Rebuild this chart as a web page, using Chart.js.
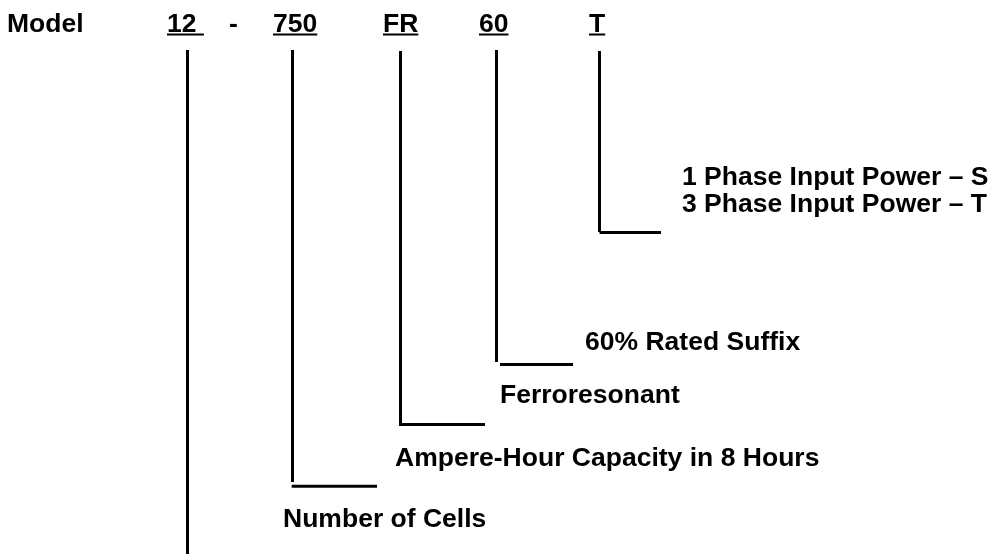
<!DOCTYPE html>
<html><head><meta charset="utf-8">
<script src="https://cdn.jsdelivr.net/npm/chart.js@4"></script>
<style>html,body{margin:0;padding:0;background:#fff;overflow:hidden}canvas{display:block}</style>
</head><body>
<canvas id="c" width="997" height="554"></canvas>
<script>
// ---- content ----
const modelLabel = 'Model';
const codeParts = ['12 ', '-', '750', 'FR', '60', 'T'];
const codeUnderlined = [true, false, true, true, true, true];
const descriptions = [
  ['Number of Cells'],
  ['Ampere-Hour Capacity in 8 Hours'],
  ['Ferroresonant'],
  ['60% Rated Suffix'],
  ['1 Phase Input Power \u2013 S', '3 Phase Input Power \u2013 T']
];

// ---- layout (diagram units on the hidden axes) ----
const modelX = 7;
const codeX = [167, 229, 273, 383, 479, 589];
const codeBaseline = 32;
const stemX = [187.5, 292.5, 400.5, 496.5, 599.5];
const stemTop = [50, 50, 51, 50, 51];
const stemBottom = [554, 482, 424, 362, 232];
const legX0 = [null, 291.7, 399, 500, 599.5];
const legX1 = [null, 377, 485, 573, 661];
const legY = [null, 486.3, 424.5, 364.5, 232.5];
const descX = [283, 395, 500, 585, 682];
const descBaseline = [527, 466, 403, 350, 185];
const descLineHeight = 27;
const FONT = 'bold 26px "Liberation Sans", Arial, sans-serif';
const TEXT_STRETCH = 1.02;

const datasets = [];
stemX.forEach((x, i) => {
  datasets.push({data: [{x: x, y: stemTop[i]}, {x: x, y: stemBottom[i]}]});
  if (legY[i] !== null) {
    datasets.push({data: [{x: legX0[i], y: legY[i]}, {x: legX1[i], y: legY[i]}]});
  }
});
datasets.forEach(d => Object.assign(d, {
  showLine: true, borderColor: '#000', borderWidth: 3, pointRadius: 0,
  pointHoverRadius: 0, fill: false, tension: 0, borderCapStyle: 'butt'
}));

function drawText(c, t, px, py, underline) {
  c.save();
  c.translate(px, py);
  c.scale(TEXT_STRETCH, 1);
  c.fillText(t, 0, 0);
  if (underline) {
    c.fillRect(0, 1.5, c.measureText(t).width, 2);
  }
  c.restore();
}

const textPlugin = {
  id: 'diagramText',
  beforeDraw(chart) {
    const c = chart.ctx;
    c.save(); c.fillStyle = '#fff'; c.fillRect(0, 0, chart.width, chart.height); c.restore();
  },
  afterDatasetsDraw(chart) {
    const c = chart.ctx, sx = chart.scales.x, sy = chart.scales.y;
    c.save();
    c.font = FONT; c.fillStyle = '#000'; c.textBaseline = 'alphabetic'; c.textAlign = 'left';
    drawText(c, modelLabel, sx.getPixelForValue(modelX), sy.getPixelForValue(codeBaseline), false);
    codeParts.forEach((t, i) => {
      drawText(c, t, sx.getPixelForValue(codeX[i]), sy.getPixelForValue(codeBaseline), codeUnderlined[i]);
    });
    descriptions.forEach((lines, i) => {
      lines.forEach((t, j) => {
        drawText(c, t, sx.getPixelForValue(descX[i]), sy.getPixelForValue(descBaseline[i] + j * descLineHeight), false);
      });
    });
    c.restore();
  }
};

new Chart(document.getElementById('c'), {
  type: 'scatter',
  data: {datasets},
  options: {
    responsive: false, animation: false, devicePixelRatio: 1,
    layout: {padding: 0},
    plugins: {legend: {display: false}, tooltip: {enabled: false}},
    events: [],
    scales: {
      x: {type: 'linear', min: 0, max: 997, display: false},
      y: {type: 'linear', min: 0, max: 554, reverse: true, display: false}
    }
  },
  plugins: [textPlugin]
});
</script>
</body></html>
